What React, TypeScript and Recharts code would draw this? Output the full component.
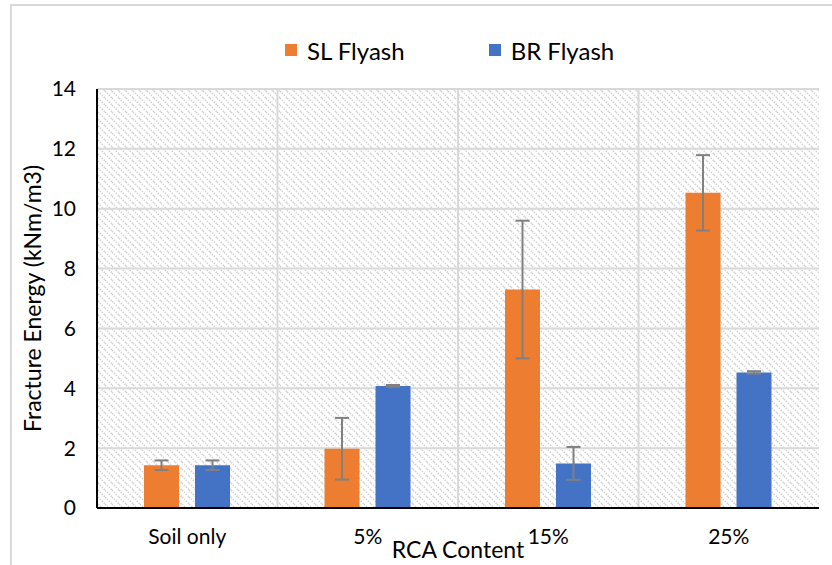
import React from 'react';
import { BarChart, Bar, XAxis, YAxis, CartesianGrid, ErrorBar, Legend } from 'recharts';

const categories = ['Soil only', '5%', '15%', '25%'];
const slFlyash = [1.43, 1.98, 7.3, 10.53];
const slError = [0.16, 1.03, 2.3, 1.26];
const brFlyash = [1.43, 4.08, 1.49, 4.53];
const brError = [0.16, 0.03, 0.55, 0.04];
const yTicks = [0, 2, 4, 6, 8, 10, 12, 14];

const seriesInfo = [
  { key: 'sl', name: 'SL Flyash', color: '#ED7D31' },
  { key: 'br', name: 'BR Flyash', color: '#4472C4' },
];

const data = categories.map((c, i) => ({
  category: c,
  sl: slFlyash[i],
  slErr: slError[i],
  br: brFlyash[i],
  brErr: brError[i],
}));

const FONT = 'Lato, "Open Sans", sans-serif';

const LegendContent = () => (
  <div style={{ display: 'flex', alignItems: 'center', height: 40, paddingLeft: 285, fontFamily: FONT, fontSize: 24, color: '#000' }}>
    {seriesInfo.map((s, i) => (
      <div key={s.key} style={{ display: 'flex', alignItems: 'center', marginRight: i === 0 ? 84 : 0 }}>
        <span style={{ display: 'inline-block', width: 12, height: 12, background: s.color, marginRight: 10 }} />
        <span>{s.name}</span>
      </div>
    ))}
  </div>
);

export default function App() {
  return (
    <div style={{ position: 'fixed', left: 0, top: 0, width: 832, height: 565, overflow: 'hidden', background: '#fff' }}>
      <div style={{ position: 'absolute', left: 10, top: 4, width: 900, height: 700, border: '2px solid #d9d9d9', boxSizing: 'border-box' }} />
      <svg width={0} height={0} style={{ position: 'absolute' }}>
        <defs>
          <pattern id="hatch" patternUnits="userSpaceOnUse" width={7} height={7}>
            <path d="M0,0 L7,7 M-1,6 L1,8 M6,-1 L8,1" stroke="#d3d3d3" strokeWidth={1.6} strokeDasharray="1.5 1.2" />
          </pattern>
        </defs>
      </svg>
      <div style={{ position: 'absolute', left: 0, top: 0 }}>
        <BarChart
          width={832}
          height={565}
          data={data}
          margin={{ top: 30, right: 13, left: 0, bottom: 0 }}
          barSize={35}
          barGap={16}
        >
          <Legend verticalAlign="top" height={59} wrapperStyle={{ left: 0, width: 832 }} content={() => <LegendContent />} />
          <CartesianGrid
            fill="url(#hatch)"
            stroke="#d9d9d9"
            strokeWidth={2}
            verticalCoordinatesGenerator={(props: any) => {
              const o = props.offset;
              const step = o.width / categories.length;
              return [1, 2, 3].map((k) => o.left + step * k);
            }}
          />
          <XAxis
            dataKey="category"
            axisLine={{ stroke: '#000', strokeWidth: 2 }}
            tickLine={false}
            tickSize={0}
            tickMargin={21}
            height={57}
            tick={{ fill: '#000', fontSize: 21, fontFamily: FONT }}
            label={{ value: 'RCA Content', position: 'insideBottom', offset: 7, fill: '#000', fontSize: 23, fontFamily: FONT }}
          />
          <XAxis xAxisId="top" orientation="top" dataKey="category" height={0} tick={false} tickLine={false} axisLine={{ stroke: '#000', strokeWidth: 2 }} />
          <YAxis
            domain={[0, 14]}
            ticks={yTicks}
            width={97}
            axisLine={{ stroke: '#000', strokeWidth: 2 }}
            tickLine={false}
            tickSize={0}
            tickMargin={21}
            tick={{ fill: '#000', fontSize: 21, fontFamily: FONT }}
            label={{ value: 'Fracture Energy (kNm/m3)', angle: -90, position: 'center', dx: -16, fill: '#000', fontSize: 23, fontFamily: FONT }}
          />
          <YAxis yAxisId="right" orientation="right" domain={[0, 14]} width={0} tick={false} tickLine={false} axisLine={{ stroke: '#000', strokeWidth: 2 }} />
          <Bar dataKey="sl" name="SL Flyash" fill="#ED7D31" isAnimationActive={false}>
            <ErrorBar dataKey="slErr" width={7} stroke="#808080" strokeWidth={2} />
          </Bar>
          <Bar dataKey="br" name="BR Flyash" fill="#4472C4" isAnimationActive={false}>
            <ErrorBar dataKey="brErr" width={7} stroke="#808080" strokeWidth={2} />
          </Bar>
        </BarChart>
      </div>
    </div>
  );
}
